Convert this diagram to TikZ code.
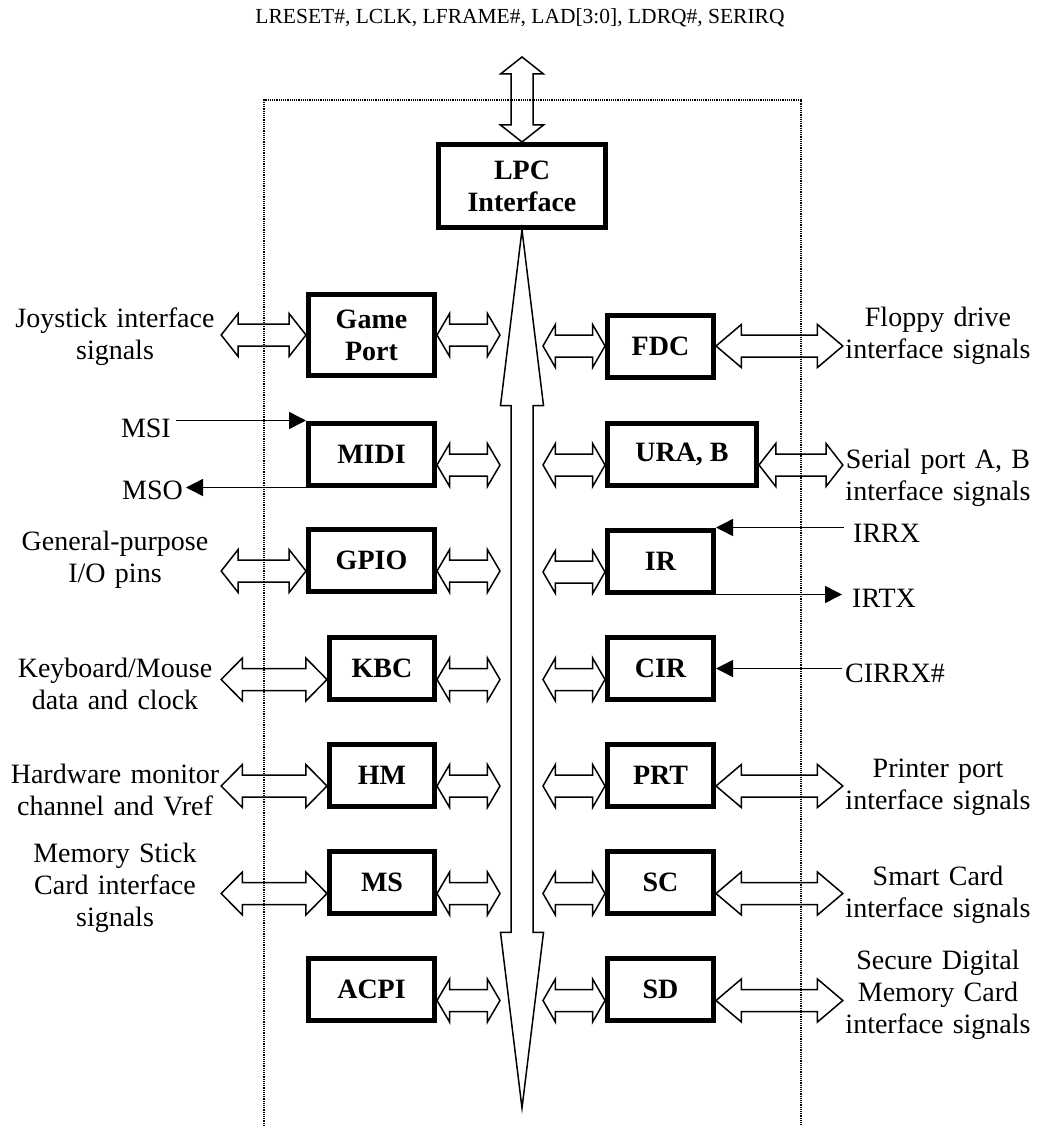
\documentclass[tikz,border=0pt]{standalone}
\usepackage{fontspec}
\setmainfont{Liberation Serif}
\usepackage{tikz}
\usetikzlibrary{positioning,calc,arrows.meta}

\begin{document}
\begin{tikzpicture}[x=1pt, y=-1pt,
    every node/.style={font=\fontsize{28}{32}\selectfont},
    blk/.style={rectangle, draw, line width=5pt, font=\fontsize{28}{32}\selectfont\bfseries, align=center, inner sep=0pt, minimum height=62pt},
    txt/.style={inner sep=0pt, align=center},
    sig/.style={line width=1.5pt, -{Triangle[length=17pt,width=17pt]}},
    hbus/.style={line width=1.5pt, to path={
        let \p1=(\tikztostart), \p2=(\tikztotarget),
            \p3=($(\x1,\y1)!0.2!(\x2,\y1)$), \p4=($(\x2,\y1)!0.2!(\x1,\y1)$) in
        (\x1,\y1) -- (\x3,\y1+21.5pt) -- (\x3,\y1+11pt) -- (\x4,\y1+11pt) -- (\x4,\y1+21.5pt) -- (\x2,\y1)
        -- (\x4,\y1-21.5pt) -- (\x4,\y1-11pt) -- (\x3,\y1-11pt) -- (\x3,\y1-21.5pt) -- cycle}},
    vbus/.style={line width=1.5pt, to path={
        let \p1=(\tikztostart), \p2=(\tikztotarget),
            \p3=($(\x1,\y1)!0.2!(\x1,\y2)$), \p4=($(\x1,\y2)!0.2!(\x1,\y1)$) in
        (\x1,\y1) -- (\x1+21.5pt,\y3) -- (\x1+11pt,\y3) -- (\x1+11pt,\y4) -- (\x1+21.5pt,\y4) -- (\x1,\y2)
        -- (\x1-21.5pt,\y4) -- (\x1-11pt,\y4) -- (\x1-11pt,\y3) -- (\x1-21.5pt,\y3) -- cycle}}]
    \useasboundingbox (0,0) rectangle (1038,1126);

    \draw[densely dotted, line width=1.2pt] (264,1126) -- (264,100) -- (801,100) -- (801,1126);

    \node[font=\fontsize{21.5}{24}\selectfont, inner sep=0pt] (lpcsig) at (520,18) {LRESET\#, LCLK, LFRAME\#, LAD[3:0], LDRQ\#, SERIRQ};
    \node[blk, minimum width=167pt, minimum height=83pt] (lpc) at (522,186) {LPC\\Interface};

    \coordinate (lpctop) at (522,57);
    \coordinate (busend) at (522,1108);
    \coordinate (busL) at (500,0);
    \coordinate (busR) at (543,0);

    \node[blk, minimum width=126pt, minimum height=81pt] (gp) at (371.5,335) {Game\\Port};
    \node[blk, minimum width=126pt] (midi) at (371.5,454) {MIDI};
    \node[blk, minimum width=126pt] (gpio) at (371.5,560) {GPIO};
    \node[blk, minimum width=105pt] (kbc) at (382,668.5) {KBC};
    \node[blk, minimum width=105pt] (hm) at (382,775) {HM};
    \node[blk, minimum width=105pt] (ms) at (382,882.5) {MS};
    \node[blk, minimum width=126pt] (acpi) at (371.5,989.5) {ACPI};

    \node[blk, minimum width=106pt] (fdc) at (660.5,346) {FDC};
    \node[blk, minimum width=149pt] (ura) at (682,454) {URA, B};
    \node[blk, minimum width=106pt] (ir) at (660.5,561) {IR};
    \node[blk, minimum width=106pt] (cir) at (660.5,668.5) {CIR};
    \node[blk, minimum width=106pt] (prt) at (660.5,775) {PRT};
    \node[blk, minimum width=106pt] (sc) at (660.5,882.5) {SC};
    \node[blk, minimum width=106pt] (sd) at (660.5,989.5) {SD};

    \node[txt, text width=212pt] (joyL) at (115,337) {Joystick interface\\signals};
    \node[txt, text width=212pt] (gpioL) at (115,560) {General-purpose\\I/O pins};
    \node[txt, text width=212pt] (kbcL) at (115,684) {Keyboard/Mouse\\data and clock};
    \node[txt, text width=212pt] (hmL) at (115,790) {Hardware monitor\\channel and Vref};
    \node[txt, text width=212pt] (msL) at (115,888) {Memory Stick\\Card interface\\signals};

    \node[txt, text width=190pt] (fdcL) at (938,336) {Floppy drive\\interface signals};
    \node[txt, text width=190pt] (uraL) at (938,478) {Serial port A, B\\interface signals};
    \node[txt, text width=190pt] (prtL) at (938,787) {Printer port\\interface signals};
    \node[txt, text width=190pt] (scL) at (938,895) {Smart Card\\interface signals};
    \node[txt, text width=190pt] (sdL) at (938,995) {Secure Digital\\Memory Card\\interface signals};

    \node[txt, anchor=east, inner xsep=5pt] (msi) at (176,428) {MSI};
    \node[txt, anchor=east, inner xsep=3pt] (mso) at (186,490) {MSO};
    \node[txt, anchor=west, inner xsep=9pt] (irrx) at (844,533) {IRRX};
    \node[txt, anchor=west, inner xsep=10pt] (irtx) at (842,598) {IRTX};
    \node[txt, anchor=west, inner xsep=3pt] (cirrx) at (842,673) {CIRRX\#};

    \draw[vbus] (lpc.north) to (lpctop);
    \draw[vbus] (lpc.south) to (busend);

    \draw[hbus] (gp.east) to (busL);
    \draw[hbus] ([yshift=-11pt]midi.east) to (busL);
    \draw[hbus] ([yshift=-11pt]gpio.east) to (busL);
    \draw[hbus] ([yshift=-11pt]kbc.east) to (busL);
    \draw[hbus] ([yshift=-11pt]hm.east) to (busL);
    \draw[hbus] ([yshift=-11pt]ms.east) to (busL);
    \draw[hbus] ([yshift=-11pt]acpi.east) to (busL);

    \draw[hbus] (fdc.west) to (busR);
    \draw[hbus] ([yshift=-11pt]ura.west) to (busR);
    \draw[hbus] ([yshift=-11pt]ir.west) to (busR);
    \draw[hbus] ([yshift=-11pt]cir.west) to (busR);
    \draw[hbus] ([yshift=-11pt]prt.west) to (busR);
    \draw[hbus] ([yshift=-11pt]sc.west) to (busR);
    \draw[hbus] ([yshift=-11pt]sd.west) to (busR);

    \draw[hbus] (gp.west) to (joyL.east);
    \draw[hbus] ([yshift=-11pt]gpio.west) to (gpioL.east);
    \draw[hbus] ([yshift=-11pt]kbc.west) to (kbcL.east);
    \draw[hbus] ([yshift=-11pt]hm.west) to (hmL.east);
    \draw[hbus] ([yshift=-11pt]ms.west) to (msL.east);

    \draw[hbus] (fdc.east) to (fdcL.west);
    \draw[hbus] ([yshift=-11pt]ura.east) to (uraL.west);
    \draw[hbus] ([yshift=-11pt]prt.east) to (prtL.west);
    \draw[hbus] ([yshift=-11pt]sc.east) to (scL.west);
    \draw[hbus] ([yshift=-11pt]sd.east) to (sdL.west);

    \draw[sig] (msi.east |- midi.north west) -- (midi.north west);
    \draw[sig] (midi.south west) -- (mso.east |- midi.south west);
    \draw[sig] (irrx.west |- ir.north east) -- (ir.north east);
    \draw[sig] (ir.south east) -- (irtx.west |- ir.south east);
    \draw[sig] (cirrx.west |- cir.east) -- (cir.east);
\end{tikzpicture}
\end{document}
